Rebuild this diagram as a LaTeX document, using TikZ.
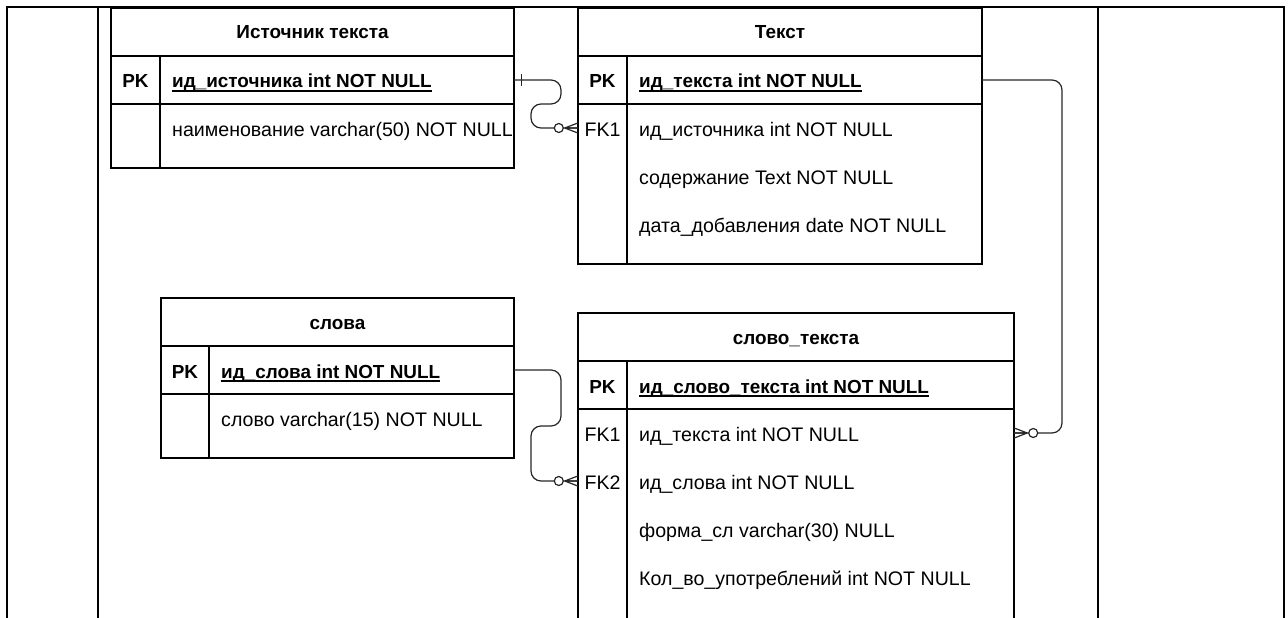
\documentclass[tikz,border=0pt]{standalone}
\usepackage{fontspec}
\setmainfont{Liberation Sans}
\usetikzlibrary{calc}
\begin{document}
\begin{tikzpicture}[x=1pt,y=-1pt,
  font=\fontsize{19.6}{23}\selectfont,
  tbl/.style={draw=black, line width=1.2pt},
  frm/.style={draw=black, line width=2.6pt},
  conn/.style={draw=black!85, line width=1.2pt, rounded corners=10pt},
  rowbox/.style={draw=none, inner sep=0pt, minimum height=48pt},
  ttl/.style={font=\fontsize{18.9}{23}\selectfont\bfseries, anchor=base, inner sep=0pt},
  keyt/.style={anchor=base, inner sep=0pt},
  pkkey/.style={keyt, font=\fontsize{18.9}{23}\selectfont\bfseries},
  fld/.style={anchor=base west, inner sep=0pt},
  pkfld/.style={fld, font=\fontsize{18.9}{23}\selectfont\bfseries},
  uline/.style={draw=black, line width=1.2pt},
  zmany/.pic={
    \draw[black!85, line width=1.2pt] (-13,0) -- (0,5) (-13,0) -- (0,-5) (-13,0) -- (0,0);
    \draw[black!85, line width=1.2pt, fill=white] (-19,0) circle (4.5);
  },
  onebar/.pic={
    \draw[black!85, line width=1.2pt] (7,-6) -- (7,6);
  }
]
\useasboundingbox (0,0) rectangle (1288,618);

% page frame
\draw[frm] (7,625) -- (7,7) -- (1284,7) -- (1284,625);
\draw[frm] (98,7) -- (98,625);
\draw[frm] (1098,7) -- (1098,625);

% ---------- Table 1: Источник текста ----------
\draw[tbl] (111,8) rectangle (514,168);
\draw[tbl] (111,56) -- (514,56) (111,104) -- (514,104) (160,56) -- (160,168);
\node[rowbox, minimum width=403pt] (t1pk) at (312.5,80) {};
\node[ttl] (t1title) at (312.5,39) {Источник текста};
\node[pkkey] (t1pkk) at (135.5,88) {PK};
\node[pkfld] (t1pkf) at (172,88) {ид\_источника int NOT NULL};
\draw[uline] ($(t1pkf.base west)+(0,3)$) -- ($(t1pkf.base east)+(0,3)$);
\node[fld] (t1f1) at (172,136) {наименование varchar(50) NOT NULL};

% ---------- Table 2: Текст ----------
\draw[tbl] (578,8) rectangle (982,264);
\draw[tbl] (578,56) -- (982,56) (578,104) -- (982,104) (627,56) -- (627,264);
\node[rowbox, minimum width=404pt] (t2pk) at (780,80) {};
\node[rowbox, minimum width=404pt] (t2fk1) at (780,128) {};
\node[ttl] (t2title) at (780,39) {Текст};
\node[pkkey] (t2pkk) at (602.5,88) {PK};
\node[pkfld] (t2pkf) at (639,88) {ид\_текста int NOT NULL};
\draw[uline] ($(t2pkf.base west)+(0,3)$) -- ($(t2pkf.base east)+(0,3)$);
\node[keyt] (t2fkk) at (602.5,136) {FK1};
\node[fld] (t2f1) at (639,136) {ид\_источника int NOT NULL};
\node[fld] (t2f2) at (639,184) {содержание Text NOT NULL};
\node[fld] (t2f3) at (639,232) {дата\_добавления date NOT NULL};

% ---------- Table 3: слова ----------
\draw[tbl] (161,298) rectangle (514,458);
\draw[tbl] (161,346) -- (514,346) (161,394) -- (514,394) (209,346) -- (209,458);
\node[rowbox, minimum width=353pt] (t3pk) at (337.5,370) {};
\node[ttl] (t3title) at (337.5,329) {слова};
\node[pkkey] (t3pkk) at (185,378) {PK};
\node[pkfld] (t3pkf) at (221,378) {ид\_слова int NOT NULL};
\draw[uline] ($(t3pkf.base west)+(0,3)$) -- ($(t3pkf.base east)+(0,3)$);
\node[fld] (t3f1) at (221,426) {слово varchar(15) NOT NULL};

% ---------- Table 4: слово_текста ----------
\draw[tbl] (578,625) -- (578,313) -- (1014,313) -- (1014,625);
\draw[tbl] (578,361) -- (1014,361) (578,409) -- (1014,409) (627,361) -- (627,625);
\node[rowbox, minimum width=436pt] (t4fk1) at (796,433) {};
\node[rowbox, minimum width=436pt] (t4fk2) at (796,481) {};
\node[ttl] (t4title) at (796,344) {слово\_текста};
\node[pkkey] (t4pkk) at (602.5,393) {PK};
\node[pkfld] (t4pkf) at (639,393) {ид\_слово\_текста int NOT NULL};
\draw[uline] ($(t4pkf.base west)+(0,3)$) -- ($(t4pkf.base east)+(0,3)$);
\node[keyt] (t4fk1k) at (602.5,441) {FK1};
\node[fld] (t4f1) at (639,441) {ид\_текста int NOT NULL};
\node[keyt] (t4fk2k) at (602.5,489) {FK2};
\node[fld] (t4f2) at (639,489) {ид\_слова int NOT NULL};
\node[fld] (t4f3) at (639,537) {форма\_сл varchar(30) NULL};
\node[fld] (t4f4) at (639,585) {Кол\_во\_употреблений int NOT NULL};

% ---------- Connectors ----------
\draw[conn] (t1pk.east) -- (561,80) -- (561,104) -- (531,104) -- (531,128) -- (t2fk1.west);
\pic at (t1pk.east) {onebar};
\pic at (t2fk1.west) {zmany};

\draw[conn] (t2pk.east) -- (1062,80) -- (1062,433) -- (t4fk1.east);
\pic[xscale=-1] at (t4fk1.east) {zmany};

\draw[conn] (t3pk.east) -- (561,370) -- (561,426) -- (531,426) -- (531,481) -- (t4fk2.west);
\pic at (t4fk2.west) {zmany};
\end{tikzpicture}
\end{document}
